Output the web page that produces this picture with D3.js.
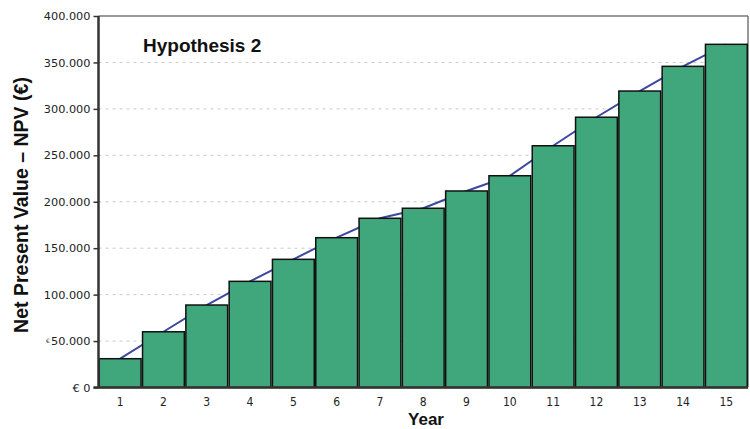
<!DOCTYPE html>
<html><head><meta charset="utf-8">
<script src="https://cdn.jsdelivr.net/npm/d3@7"></script>
<style>body{margin:0;background:#fff}</style>
</head><body>
<svg id="c" width="750" height="429"></svg>
<script>
const years = [1,2,3,4,5,6,7,8,9,10,11,12,13,14,15];
const npv = [31000,60000,88800,114300,138000,161300,182200,193000,211600,228000,260300,291000,319200,345800,369500];
const yTicks = [0,50000,100000,150000,200000,250000,300000,350000,400000];
const yTickLabels = ["€ 0","50.000","100.000","150.000","200.000","250.000","300.000","350.000","400.000"];
const title = "Hypothesis 2";
const xTitle = "Year";
const yTitle = "Net Present Value – NPV (€)";

const svg = d3.select("#c");
const m = {l:98.5, r:748, t:16, b:387.5};
const x = d3.scaleBand().domain(years).range([m.l, m.r]).padding(0);
const y = d3.scaleLinear().domain([0,400000]).range([m.b, m.t]);

// gridlines
svg.append("g").selectAll("line").data(yTicks.filter(d=>d>0 && d<400000)).join("line")
  .attr("x1", m.l).attr("x2", m.r).attr("y1", d=>y(d)).attr("y2", d=>y(d))
  .attr("stroke","#c8c8c8").attr("stroke-width",1).attr("stroke-dasharray","3,4");

// frame top/right
svg.append("line").attr("x1",m.l).attr("x2",m.r).attr("y1",m.t).attr("y2",m.t).attr("stroke","#777").attr("stroke-width",1.5);
svg.append("line").attr("x1",m.r).attr("x2",m.r).attr("y1",m.t).attr("y2",m.b).attr("stroke","#777").attr("stroke-width",1.5);

// line through bar tops (behind bars)
svg.append("path").datum(years.map((d,i)=>[d,npv[i]]))
  .attr("fill","none").attr("stroke","#3b48a0").attr("stroke-width",2)
  .attr("d", d3.line().x(d=>x(d[0])+x.bandwidth()/2).y(d=>y(d[1])));

// bars
svg.append("g").selectAll("rect").data(years).join("rect")
  .attr("x", d=>x(d)+0.75).attr("width", x.bandwidth()-1.5)
  .attr("y", (d,i)=>y(npv[i])).attr("height",(d,i)=>y(0)-y(npv[i]))
  .attr("fill","#3fa77b").attr("stroke","#111").attr("stroke-width",1.5);

// y axis
const ya = d3.axisLeft(y).tickValues(yTicks).tickSize(5).tickFormat((d,i)=>yTickLabels[i]);
const gy = svg.append("g").attr("transform",`translate(${m.l},0)`).call(ya);
gy.select(".domain").attr("stroke","#333").attr("stroke-width",2.5).attr("d",`M0,${m.t}V${m.b}`);
gy.selectAll(".tick line").attr("stroke","#333").attr("stroke-width",1.5);
gy.selectAll(".tick text").attr("x",-8).attr("font-family","DejaVu Sans, sans-serif").attr("font-size",11.3).attr("fill","#222");

// x axis
const xa = d3.axisBottom(x).tickSize(0).tickPadding(0);
const gx = svg.append("g").attr("transform",`translate(0,${m.b})`).call(xa);
gx.select(".domain").attr("stroke","#333").attr("stroke-width",2.5).attr("d",`M${m.l-5},0H${m.r}`);
gx.selectAll(".tick text").attr("y",10).attr("dy","0.71em")
  .attr("font-family","DejaVu Sans Condensed, DejaVu Sans, sans-serif").attr("font-size",12).attr("fill","#222");

// tiny glyph next to 50.000
svg.append("text").attr("x",46).attr("y",343).attr("font-size",6).attr("font-family","DejaVu Sans").attr("fill","#444").text("€");

// titles
svg.append("text").attr("x",143).attr("y",52).attr("font-family","Liberation Sans, Arial, sans-serif")
  .attr("font-weight","bold").attr("font-size",19).attr("fill","#111").text(title);
svg.append("text").attr("x",426).attr("y",425).attr("text-anchor","middle").attr("font-family","Liberation Sans, Arial, sans-serif")
  .attr("font-weight","bold").attr("font-size",17).attr("fill","#111").text(xTitle);
svg.append("text").attr("transform","translate(28,205) rotate(-90)").attr("text-anchor","middle")
  .attr("font-family","Liberation Sans, Arial, sans-serif").attr("font-weight","bold").attr("font-size",19.5).attr("fill","#111").text(yTitle);
</script>
</body></html>
